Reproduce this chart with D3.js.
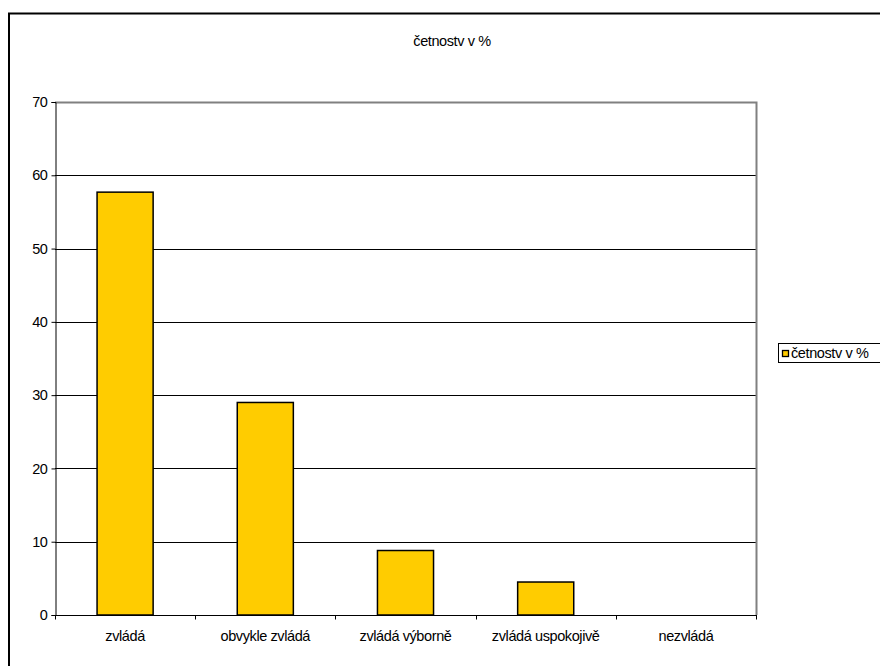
<!DOCTYPE html>
<html>
<head>
<meta charset="utf-8">
<script src="https://cdn.jsdelivr.net/npm/d3@7"></script>
<style>
  body { margin: 0; background: #fff; }
  text { font-family: "Liberation Sans", Arial, sans-serif; font-size: 14.5px; fill: #000; letter-spacing: -0.4px; }
</style>
</head>
<body>
<svg width="880" height="666"></svg>
<script>
// data
var categories = ['zvládá', 'obvykle zvládá', 'zvládá výborně', 'zvládá uspokojivě', 'nezvládá'];
var values = [57.7, 29.0, 8.8, 4.5, 0];
var yTicks = [0, 10, 20, 30, 40, 50, 60, 70];
var seriesName = 'četnostv v %';
var chartTitle = 'četnostv v %';

var svg = d3.select('svg');

// outer frame (runs off the right and bottom edges)
svg.append('rect')
    .attr('x', 9).attr('y', 13.5)
    .attr('width', 900).attr('height', 700)
    .attr('fill', 'none')
    .attr('stroke', '#000')
    .attr('stroke-width', 2);

var plot = {l: 55, t: 102, r: 756, b: 615};

var xScale = d3.scaleBand()
    .domain(categories)
    .range([plot.l, plot.r])
    .paddingInner(0.6)
    .paddingOuter(0.3);

var yScale = d3.scaleLinear()
    .domain([0, 70])
    .range([plot.b, plot.t]);

// gridlines
svg.append('g')
    .selectAll('line')
    .data(yTicks.filter(function(d) { return d > 0 && d < 70; }))
    .enter().append('line')
    .attr('x1', plot.l).attr('x2', plot.r)
    .attr('y1', function(d) { return Math.round(yScale(d)) + 0.5; })
    .attr('y2', function(d) { return Math.round(yScale(d)) + 0.5; })
    .attr('stroke', '#000');

// plot border (gray top and right)
svg.append('path')
    .attr('d', 'M' + plot.l + ',' + (plot.t + 0.5) + 'H' + (plot.r + 0.5) + 'V' + plot.b)
    .attr('fill', 'none')
    .attr('stroke', '#808080')
    .attr('stroke-width', 2);

// bars
svg.append('g')
    .selectAll('rect')
    .data(values)
    .enter().append('rect')
    .attr('x', function(d, i) { return xScale(categories[i]); })
    .attr('y', function(d) { return yScale(d); })
    .attr('width', xScale.bandwidth())
    .attr('height', function(d) { return plot.b - yScale(d); })
    .attr('fill', function(d) { return d > 0 ? '#ffcc00' : 'none'; })
    .attr('stroke', function(d) { return d > 0 ? '#000' : 'none'; })
    .attr('stroke-width', 1.5);

// y axis
var yAxis = d3.axisLeft(yScale)
    .tickValues(yTicks)
    .tickSize(4)
    .tickPadding(4);
var yAxisG = svg.append('g')
    .attr('transform', 'translate(' + (plot.l + 0.5) + ',0)')
    .call(yAxis);
yAxisG.select('.domain').attr('stroke', '#000');
yAxisG.selectAll('text')
    .attr('font-family', null)
    .attr('font-size', null)
    .attr('fill', '#000');

// x axis with ticks at category boundaries
var xAxisG = svg.append('g')
    .attr('transform', 'translate(0,' + (plot.b + 0.5) + ')');
xAxisG.append('line')
    .attr('x1', plot.l).attr('x2', plot.r + 1)
    .attr('stroke', '#000');
var step = xScale.step();
xAxisG.selectAll('.xtick')
    .data(d3.range(categories.length + 1))
    .enter().append('line')
    .attr('class', 'xtick')
    .attr('x1', function(i) { return Math.round(plot.l + i * step) + 0.5; })
    .attr('x2', function(i) { return Math.round(plot.l + i * step) + 0.5; })
    .attr('y1', 0).attr('y2', 4)
    .attr('stroke', '#000');
xAxisG.selectAll('.xlabel')
    .data(categories)
    .enter().append('text')
    .attr('class', 'xlabel')
    .attr('x', function(d) { return xScale(d) + xScale.bandwidth() / 2; })
    .attr('y', 25)
    .attr('text-anchor', 'middle')
    .text(function(d) { return d; });

// title
svg.append('text')
    .attr('x', 452)
    .attr('y', 46)
    .attr('text-anchor', 'middle')
    .text(chartTitle);

// legend (runs off the right edge)
var legend = svg.append('g').attr('transform', 'translate(778,343)');
legend.append('rect')
    .attr('x', 0.5).attr('y', 0.5)
    .attr('width', 120).attr('height', 19)
    .attr('fill', '#fff')
    .attr('stroke', '#000');
legend.append('rect')
    .attr('x', 4.5).attr('y', 7.5)
    .attr('width', 6).attr('height', 6)
    .attr('fill', '#ffcc00')
    .attr('stroke', '#000')
    .attr('stroke-width', 1.3);
legend.append('text')
    .attr('x', 13)
    .attr('y', 15)
    .text(seriesName);
</script>
</body>
</html>
